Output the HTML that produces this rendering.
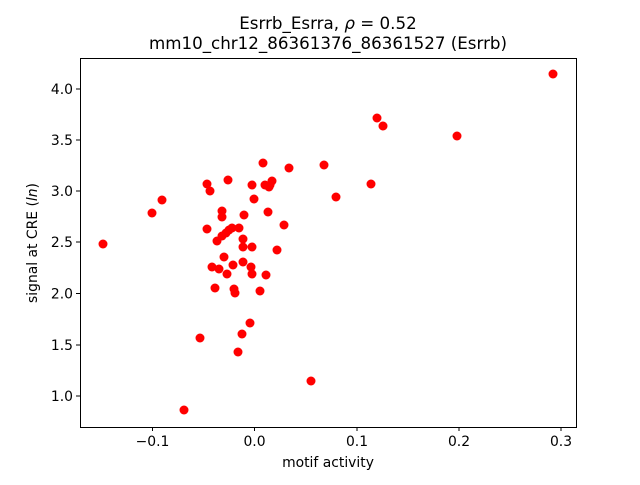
<!DOCTYPE html>
<html><head><meta charset="utf-8"><style>body{margin:0;background:#fff}</style></head><body>
<svg width="640" height="480" xmlns="http://www.w3.org/2000/svg" font-family="DejaVu Sans, Liberation Sans, sans-serif">
<rect width="640" height="480" fill="#fff"/>
<g fill="#ff0000">
<circle cx="103" cy="244" r="4.5"/><circle cx="152" cy="213" r="4.5"/><circle cx="162" cy="200" r="4.5"/><circle cx="200" cy="338" r="4.5"/><circle cx="184" cy="410" r="4.5"/><circle cx="207" cy="184" r="4.5"/><circle cx="207" cy="229" r="4.5"/><circle cx="210" cy="191" r="4.5"/><circle cx="212" cy="267" r="4.5"/><circle cx="215" cy="288" r="4.5"/><circle cx="217" cy="241" r="4.5"/><circle cx="219" cy="269" r="4.5"/><circle cx="222" cy="236" r="4.5"/><circle cx="222" cy="217" r="4.5"/><circle cx="222" cy="211" r="4.5"/><circle cx="224" cy="257" r="4.5"/><circle cx="227" cy="274" r="4.5"/><circle cx="226" cy="233" r="4.5"/><circle cx="228" cy="180" r="4.5"/><circle cx="229" cy="230" r="4.5"/><circle cx="232" cy="228" r="4.5"/><circle cx="233" cy="265" r="4.5"/><circle cx="234" cy="289" r="4.5"/><circle cx="235" cy="293" r="4.5"/><circle cx="238" cy="352" r="4.5"/><circle cx="239" cy="228" r="4.5"/><circle cx="242" cy="334" r="4.5"/><circle cx="243" cy="262" r="4.5"/><circle cx="243" cy="247" r="4.5"/><circle cx="243" cy="239" r="4.5"/><circle cx="244" cy="215" r="4.5"/><circle cx="250" cy="323" r="4.5"/><circle cx="251" cy="267" r="4.5"/><circle cx="252" cy="274" r="4.5"/><circle cx="252" cy="247" r="4.5"/><circle cx="252" cy="185" r="4.5"/><circle cx="254" cy="199" r="4.5"/><circle cx="260" cy="291" r="4.5"/><circle cx="263" cy="163" r="4.5"/><circle cx="265" cy="185" r="4.5"/><circle cx="266" cy="275" r="4.5"/><circle cx="268" cy="212" r="4.5"/><circle cx="269" cy="187" r="4.5"/><circle cx="270" cy="185" r="4.5"/><circle cx="272" cy="181" r="4.5"/><circle cx="277" cy="250" r="4.5"/><circle cx="284" cy="225" r="4.5"/><circle cx="289" cy="168" r="4.5"/><circle cx="311" cy="381" r="4.5"/><circle cx="324" cy="165" r="4.5"/><circle cx="336" cy="197" r="4.5"/><circle cx="371" cy="184" r="4.5"/><circle cx="377" cy="118" r="4.5"/><circle cx="383" cy="126" r="4.5"/><circle cx="457" cy="136" r="4.5"/><circle cx="553" cy="74" r="4.5"/>
</g>
<rect x="80.5" y="58.5" width="496" height="369" fill="none" stroke="#000" stroke-width="1"/>
<g stroke="#000" stroke-width="1">
<line x1="152.5" y1="427" x2="152.5" y2="431"/><line x1="254.5" y1="427" x2="254.5" y2="431"/><line x1="357" y1="427" x2="357" y2="431"/><line x1="459" y1="427" x2="459" y2="431"/><line x1="561" y1="427" x2="561" y2="431"/>
<line x1="76" y1="396" x2="80" y2="396"/><line x1="76" y1="345" x2="80" y2="345"/><line x1="76" y1="293.5" x2="80" y2="293.5"/><line x1="76" y1="242" x2="80" y2="242"/><line x1="76" y1="191" x2="80" y2="191"/><line x1="76" y1="140" x2="80" y2="140"/><line x1="76" y1="89" x2="80" y2="89"/>
</g>
<g font-size="13.9" text-anchor="middle" fill="#000">
<text x="152.5" y="446">−0.1</text><text x="254.5" y="446">0.0</text><text x="357" y="446">0.1</text><text x="459" y="446">0.2</text><text x="561" y="446">0.3</text>
</g>
<g font-size="13.9" text-anchor="end" fill="#000">
<text x="73" y="401">1.0</text><text x="73" y="350">1.5</text><text x="73" y="298.5">2.0</text><text x="73" y="247">2.5</text><text x="73" y="196">3.0</text><text x="73" y="145">3.5</text><text x="73" y="94">4.0</text>
</g>
<text x="328" y="467" font-size="13.9" text-anchor="middle">motif activity</text>
<text transform="translate(37,243) rotate(-90)" font-size="13.9" text-anchor="middle">signal at CRE (<tspan font-style="italic">ln</tspan>)</text>
<text x="328" y="29" font-size="16.7" text-anchor="middle">Esrrb_Esrra, <tspan font-style="italic">ρ</tspan> = 0.52</text>
<text x="328" y="49" font-size="16.7" text-anchor="middle">mm10_chr12_86361376_86361527 (Esrrb)</text>
</svg>
</body></html>
